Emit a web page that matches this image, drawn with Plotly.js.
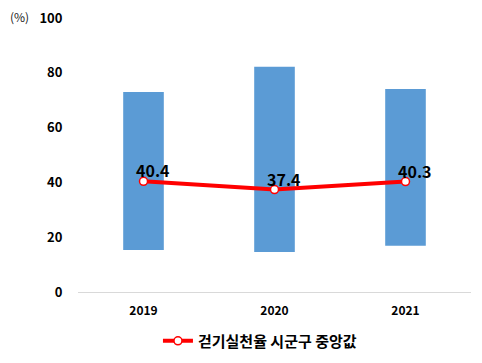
<!DOCTYPE html>
<html>
<head>
<meta charset="utf-8">
<script src="https://cdn.plot.ly/plotly-3.0.1.min.js"></script>
<style>html,body{margin:0;padding:0;background:#fff;}#chart{width:482px;height:363px;}</style>
</head>
<body>
<div id="chart"></div>
<script>
const years = ['2019', '2020', '2021'];
const rangeLow = [15.3, 14.6, 16.9];
const rangeHigh = [73.0, 82.2, 74.1];
const median = [40.4, 37.4, 40.3];
const medianLabels = ['40.4', '37.4', '40.3'];
const seriesName = '걷기실천율 시군구 중앙값';
const yTicks = [0, 20, 40, 60, 80, 100];

const fontFam = '"Noto Sans CJK KR", "Noto Sans", Arial, sans-serif';
const xPos = years.map((_, i) => i);

const barTrace = {
  type: 'bar',
  x: xPos,
  y: rangeHigh.map((h, i) => h - rangeLow[i]),
  base: rangeLow,
  width: 0.31,
  marker: {color: '#5B9BD5'},
  showlegend: false,
  hoverinfo: 'skip'
};

const lineTrace = {
  type: 'scatter',
  mode: 'lines+markers',
  x: xPos,
  y: median,
  name: seriesName,
  line: {color: '#FF0000', width: 4},
  marker: {color: '#FFFFFF', size: 8, line: {color: '#FF0000', width: 1.5}}
};

const annotations = xPos.map((xv, i) => ({
  x: xv, y: median[i], xref: 'x', yref: 'y',
  text: '<b>' + medianLabels[i] + '</b>',
  showarrow: false, xshift: 9, yshift: 11,
  font: {family: fontFam, size: 16, color: '#000'}
}));
annotations.push({
  xref: 'paper', yref: 'paper', x: -0.1476, y: 1.004,
  xanchor: 'center', yanchor: 'middle',
  text: '(%)', showarrow: false,
  font: {family: fontFam, size: 12, color: '#222'}
});

const layout = {
  width: 482, height: 363,
  margin: {l: 78, r: 11, t: 18, b: 71, autoexpand: false},
  paper_bgcolor: '#fff', plot_bgcolor: '#fff',
  xaxis: {
    range: [-0.5, 2.5],
    tickvals: xPos, ticktext: years,
    showline: true, linecolor: '#D9D9D9', linewidth: 1,
    showgrid: false, zeroline: false,
    ticks: 'outside', ticklen: 8, tickcolor: 'rgba(0,0,0,0)',
    tickfont: {family: fontFam, size: 12, color: '#000', weight: 'bold'}
  },
  yaxis: {
    range: [0, 100],
    tickvals: yTicks,
    showgrid: false, zeroline: false, showline: false,
    ticks: 'outside', ticklen: 12, tickcolor: 'rgba(0,0,0,0)',
    tickfont: {family: fontFam, size: 13, color: '#000', weight: 'bold'}
  },
  showlegend: true,
  legend: {
    orientation: 'h', x: 0.463, xanchor: 'center', y: -0.179, yanchor: 'middle',
    font: {family: fontFam, size: 15, color: '#000', weight: 'bold'}
  },
  annotations: annotations
};

Plotly.newPlot('chart', [barTrace, lineTrace], layout, {staticPlot: true, displayModeBar: false});
</script>
</body>
</html>
